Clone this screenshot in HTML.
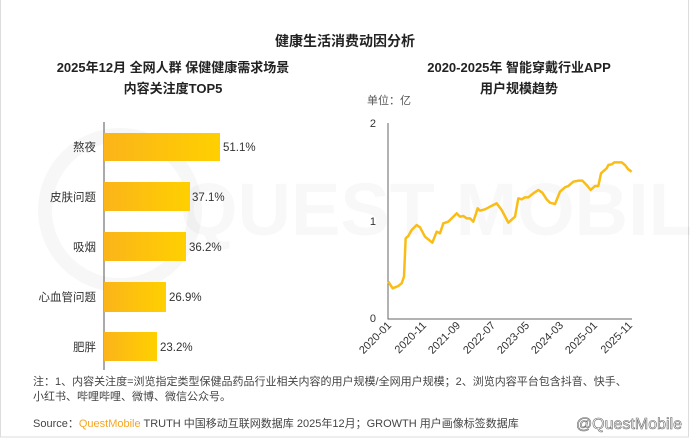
<!DOCTYPE html>
<html><head><meta charset="utf-8"><style>
body{margin:0;width:690px;height:441px;background:#fff;overflow:hidden;font-family:"Liberation Sans","Noto Sans CJK SC",sans-serif;}
</style></head><body>
<svg width="690" height="441" xmlns="http://www.w3.org/2000/svg" font-family="Liberation Sans, Noto Sans CJK SC, sans-serif">
<defs><linearGradient id="g" x1="0" x2="1"><stop offset="0" stop-color="#fbb41a"/><stop offset="1" stop-color="#ffd000"/></linearGradient></defs>
<rect x="0.5" y="-2" width="688" height="439" fill="#fff" stroke="#ddd"/>
<g opacity="0.03" fill="none" stroke="#000" stroke-width="14"><circle cx="120" cy="210" r="75"/></g>
<text x="180" y="235" font-size="74" fill="#000" opacity="0.025" font-weight="bold">QUEST MOBILE</text>
<text x="345" y="46" font-size="14" text-anchor="middle" font-weight="bold" fill="#222">健康生活消费动因分析</text>
<text x="173" y="72" font-size="13" text-anchor="middle" font-weight="bold" fill="#222">2025年12月 全网人群 保健健康需求场景</text>
<text x="173" y="93" font-size="13" text-anchor="middle" font-weight="bold" fill="#222">内容关注度TOP5</text>
<text x="519" y="72" font-size="13" text-anchor="middle" font-weight="bold" fill="#222">2020-2025年 智能穿戴行业APP</text>
<text x="519" y="93" font-size="13" text-anchor="middle" font-weight="bold" fill="#222">用户规模趋势</text>
<line x1="104" y1="122" x2="104" y2="370" stroke="#555" stroke-width="1"/>
<g font-size="11.5" fill="#333">
<rect x="104" y="133" width="116" height="28" fill="url(#g)"/><text x="96" y="151" text-anchor="end">熬夜</text><text x="223" y="151">51.1%</text>
<rect x="104" y="182" width="86" height="29" fill="url(#g)"/><text x="96" y="201" text-anchor="end">皮肤问题</text><text x="192" y="201">37.1%</text>
<rect x="104" y="232" width="82" height="29" fill="url(#g)"/><text x="96" y="251" text-anchor="end">吸烟</text><text x="189" y="251">36.2%</text>
<rect x="104" y="282" width="62" height="30" fill="url(#g)"/><text x="96" y="301" text-anchor="end">心血管问题</text><text x="169" y="301">26.9%</text>
<rect x="104" y="332" width="53" height="29" fill="url(#g)"/><text x="96" y="351" text-anchor="end">肥胖</text><text x="160" y="351">23.2%</text>
</g>
<text x="367" y="104" font-size="11" fill="#555">单位：亿</text>
<g font-size="11" fill="#333" text-anchor="end"><text x="376" y="127">2</text><text x="376" y="225">1</text><text x="376" y="322">0</text></g>
<polyline points="388,123 388,319 632,319" fill="none" stroke="#666" stroke-width="1"/>
<g transform="translate(345 110) scale(0.33333)">
<polyline fill="none" stroke="#f9bd16" stroke-width="7.5" stroke-linejoin="round" points="130,515 143,535 160,528 170,520 177,500 182,385 190,378 200,360 215,345 225,352 240,380 262,398 275,365 285,370 295,340 310,335 320,325 335,310 345,320 355,318 365,325 375,325 385,335 398,295 405,302 420,298 435,290 455,280 470,300 490,338 510,320 520,265 530,268 540,262 550,262 565,250 580,240 592,248 605,268 615,278 630,282 645,245 660,232 670,228 685,215 700,212 712,212 725,225 737,240 750,228 760,228 768,190 785,175 790,165 800,163 808,157 830,157 840,165 850,178 860,185"/>
</g>
<g font-size="11" fill="#333" text-anchor="end">
<text transform="translate(392 326) rotate(-45)">2020-01</text>
<text transform="translate(427 326) rotate(-45)">2020-11</text>
<text transform="translate(461 326) rotate(-45)">2021-09</text>
<text transform="translate(496 326) rotate(-45)">2022-07</text>
<text transform="translate(530 326) rotate(-45)">2023-05</text>
<text transform="translate(564 326) rotate(-45)">2024-03</text>
<text transform="translate(598 326) rotate(-45)">2025-01</text>
<text transform="translate(633 326) rotate(-45)">2025-11</text>
</g>
<g font-size="11" fill="#444">
<text x="33" y="385">注：1、内容关注度=浏览指定类型保健品药品行业相关内容的用户规模/全网用户规模；2、浏览内容平台包含抖音、快手、</text>
<text x="33" y="400">小红书、哔哩哔哩、微博、微信公众号。</text>
<text x="33" y="427">Source：<tspan fill="#f5a623">QuestMobile</tspan> TRUTH 中国移动互联网数据库 2025年12月；GROWTH 用户画像标签数据库</text>
</g>
<text x="682" y="429" font-size="16" fill="#fff" stroke="#666" stroke-width="0.6" text-anchor="end">@QuestMobile</text>
</svg>
</body></html>
